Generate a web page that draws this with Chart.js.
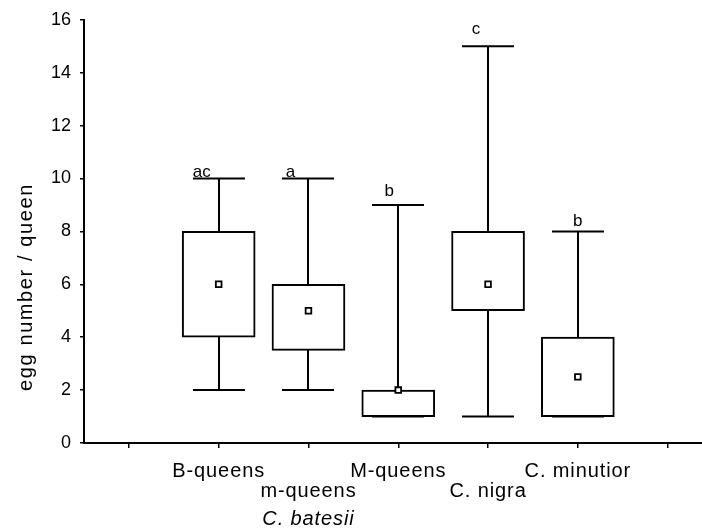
<!DOCTYPE html>
<html>
<head>
<meta charset="utf-8">
<script src="https://cdn.jsdelivr.net/npm/chart.js@4.4.1/dist/chart.umd.min.js"></script>
<style>
  html, body { margin: 0; padding: 0; background: #fff; overflow: hidden; }
  #wrap { width: 708px; height: 531px; position: relative; }
</style>
</head>
<body>
<div id="wrap"><canvas id="eggChart"></canvas></div>
<script>
// --- DATA ---
const groups = ["B-queens", "m-queens", "M-queens", "C. nigra", "C. minutior"];
const groupPos = [1, 2, 3, 4, 5];
const whiskerLow = [2, 2, 1, 1, 1];
const boxLow = [4, 3.5, 1, 5, 1];
const boxHigh = [8, 6, 2, 8, 4];
const whiskerHigh = [10, 10, 9, 15, 8];
const means = [6, 5, 2, 6, 2.5];
const sigLetters = ["ac", "a", "b", "c", "b"];
const xTickPos = [0, 1, 2, 3, 4, 5, 6];
const yTicks = [0, 2, 4, 6, 8, 10, 12, 14, 16];
const speciesNote = "C. batesii";
const yTitle = "egg number / queen";

// --- STYLE ---
const FONT = "'Liberation Sans', Arial, Helvetica, sans-serif";
const labelRow = [0, 1, 0, 1, 0];          // staggered category labels
const rowOffset = [34, 53.5];              // baseline below axis
const letterDx = [-17, -18, -9, -12, 0];   // significance letters, px from centre
const letterGap = [2, 2, 9, 12, 5];        // px above the top cap
const CAP_HALF = 26;

const boxPlotExtras = {
  id: "boxPlotExtras",
  beforeDatasetsDraw(chart) {
    const { ctx, scales: { x, y } } = chart;
    ctx.save();
    ctx.strokeStyle = "#000";
    ctx.lineWidth = 2;
    groupPos.forEach((p, i) => {
      const cx = Math.round(x.getPixelForValue(p));
      const top = y.getPixelForValue(whiskerHigh[i]);
      const bot = y.getPixelForValue(whiskerLow[i]);
      ctx.beginPath();
      ctx.moveTo(cx, top); ctx.lineTo(cx, bot);
      ctx.moveTo(cx - CAP_HALF, top); ctx.lineTo(cx + CAP_HALF, top);
      ctx.moveTo(cx - CAP_HALF, bot); ctx.lineTo(cx + CAP_HALF, bot);
      ctx.stroke();
    });
    ctx.restore();
  },
  afterDraw(chart) {
    const { ctx, chartArea, scales: { x, y } } = chart;
    ctx.save();
    ctx.fillStyle = "#000";

    // significance letters
    ctx.font = `17px ${FONT}`;
    ctx.textAlign = "center";
    ctx.textBaseline = "alphabetic";
    groupPos.forEach((p, i) => {
      const cx = x.getPixelForValue(p) + letterDx[i];
      ctx.fillText(sigLetters[i], cx, y.getPixelForValue(whiskerHigh[i]) - letterGap[i]);
    });

    // category labels, two staggered rows
    ctx.font = `20px ${FONT}`;
    ctx.letterSpacing = "0.9px";
    groupPos.forEach((p, i) => {
      ctx.fillText(groups[i], x.getPixelForValue(p), chartArea.bottom + rowOffset[labelRow[i]]);
    });
    ctx.font = `italic 20px ${FONT}`;
    ctx.fillText(speciesNote, x.getPixelForValue(groupPos[1]), chartArea.bottom + 82);

    // y axis title
    ctx.translate(26, 287);
    ctx.rotate(-Math.PI / 2);
    ctx.font = `20px ${FONT}`;
    ctx.letterSpacing = "1.6px";
    ctx.textBaseline = "middle";
    ctx.fillText(yTitle, 0, 0);
    ctx.restore();
  },
};

const axisGrid = { drawOnChartArea: false, drawTicks: true, color: "#000", lineWidth: 1.5, offset: false };
const axisBorder = { display: true, color: "#000", width: 2 };

new Chart(document.getElementById("eggChart"), {
  type: "bar",
  data: {
    datasets: [
      {
        type: "scatter",
        label: "mean",
        data: groupPos.map((p, i) => ({ x: p, y: means[i] })),
        pointStyle: "rect",
        pointRadius: 4,
        pointBorderWidth: 1.8,
        pointBackgroundColor: "#fff",
        pointBorderColor: "#000",
        order: 0,
      },
      {
        label: "box",
        data: groupPos.map((p, i) => ({ x: p, y: [boxLow[i], boxHigh[i]] })),
        backgroundColor: "#fff",
        borderColor: "#000",
        borderWidth: 2,
        borderSkipped: false,
        barThickness: 73,
        grouped: false,
        order: 1,
      },
    ],
  },
  options: {
    responsive: true,
    maintainAspectRatio: false,
    animation: false,
    layout: { padding: { top: 15, right: 0, left: 0, bottom: 0 } },
    plugins: { legend: { display: false }, tooltip: { enabled: false } },
    scales: {
      x: {
        type: "linear",
        offset: false,
        min: -0.5,
        max: 6.385,
        afterBuildTicks: (s) => { s.ticks = xTickPos.map((v) => ({ value: v })); },
        ticks: { display: false },
        grid: { ...axisGrid, tickLength: 5 },
        border: axisBorder,
        afterFit: (s) => { s.height = 88; },
      },
      y: {
        min: 0,
        max: 16,
        afterBuildTicks: (s) => { s.ticks = yTicks.map((v) => ({ value: v })); },
        ticks: { color: "#000", font: { family: FONT, size: 18 }, padding: 9 },
        grid: { ...axisGrid, tickLength: 4 },
        border: axisBorder,
        afterFit: (s) => { s.width = 84; },
      },
    },
  },
  plugins: [boxPlotExtras],
});
</script>
</body>
</html>
